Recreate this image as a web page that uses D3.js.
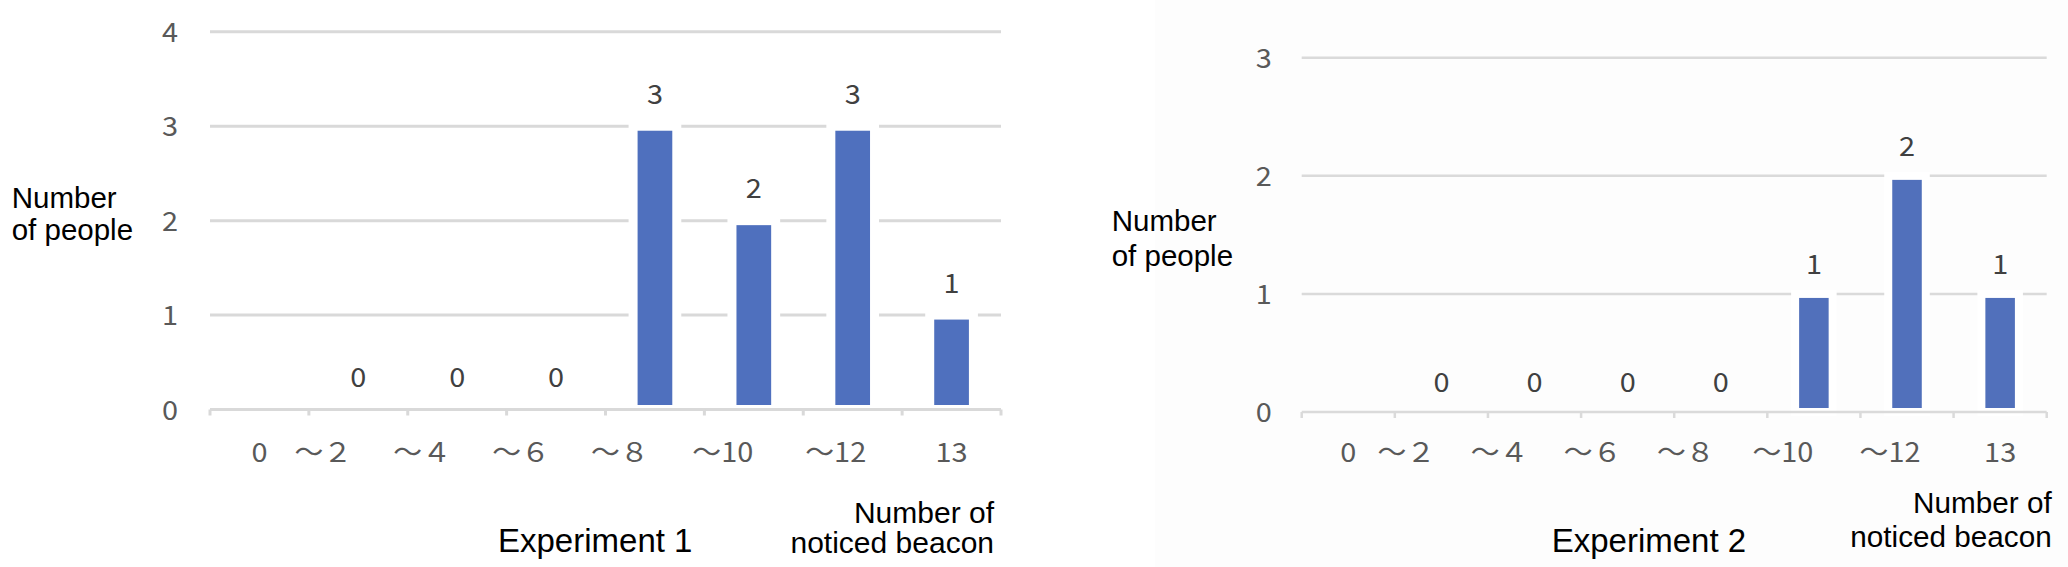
<!DOCTYPE html>
<html><head><meta charset="utf-8">
<script src="https://cdn.jsdelivr.net/npm/d3@7"></script>
<style>body{margin:0;background:#fff;overflow:hidden}</style>
</head><body>
<svg id="chart" width="2068" height="567"></svg>
<script>
// ---- data ----
const categories = ["0", "〜２", "〜４", "〜６", "〜８", "〜10", "〜12", "13"];
const experiment1Values = [null, 0, 0, 0, 3, 2, 3, 1];
const experiment2Values = [null, 0, 0, 0, 0, 1, 2, 1];
const experiment1Ticks = [0, 1, 2, 3, 4];
const experiment2Ticks = [0, 1, 2, 3];
const yTitleLines = ["Number", "of people"];
const xTitleLines = ["Number of", "noticed beacon"];
const chartTitles = ["Experiment 1", "Experiment 2"];

// ---- layout / style ----
const grayFont = "'Noto Sans CJK JP', 'Noto Sans', sans-serif";
const blackFont = "'Liberation Sans', Arial, Helvetica, sans-serif";
// horizontal nudge of category labels (as in the original Excel rendering)
function labelShift(label) {
  if (!label.startsWith("〜")) return 0;
  if (label === "〜10") return -31;
  if (label === "〜12") return -17;
  return -35;
}

const svg = d3.select("#chart");
svg.append("rect").attr("x", 0).attr("y", 0).attr("width", 2068).attr("height", 567).attr("fill", "#ffffff");
svg.append("rect").attr("x", 1155).attr("y", 0).attr("width", 913).attr("height", 567).attr("fill", "#fdfdfd");

const panels = [
  { values: experiment1Values, ticks: experiment1Ticks, title: chartTitles[0],
    x0: 210, x1: 1001, yBase: 409.5, yTopPx: 31.8,
    gridW: 3, gridC: "#d9d9d9", barFrac: 0.442, barStroke: 9, barColor: "#4f70be",
    yLabelX: 178, labelOffset: 32, xLabelY: 452, tickFs: 27, sx: 1.07,
    yTitleX: 11.7, yTitleY: [207.7, 240], yTitleFs: 29.5,
    titleX: 498, titleY: 551.7, titleFs: 33,
    xTitleX: 994, xTitleY: [523.3, 553.3], xTitleFs: 30 },
  { values: experiment2Values, ticks: experiment2Ticks, title: chartTitles[1],
    x0: 1301.7, x1: 2046.7, yBase: 412, yTopPx: 57.8,
    gridW: 2.5, gridC: "#dadada", barFrac: 0.403, barStroke: 8, barColor: "#5170bb",
    yLabelX: 1271.7, labelOffset: 29.5, xLabelY: 452, tickFs: 27, sx: 1.07,
    yTitleX: 1111.7, yTitleY: [231.4, 265.7], yTitleFs: 29.5,
    titleX: 1551.7, titleY: 551.7, titleFs: 33,
    xTitleX: 2051.7, xTitleY: [513.3, 546.7], xTitleFs: 29.7 }
];

panels.forEach(p => {
  const g = svg.append("g");
  const x = d3.scaleBand().domain(categories).range([p.x0, p.x1]).padding(0);
  const y = d3.scaleLinear().domain([0, d3.max(p.ticks)]).range([p.yBase, p.yTopPx]);
  const step = x.step();

  // gridlines
  g.append("g").selectAll("line").data(p.ticks.filter(t => t > 0)).join("line")
    .attr("x1", p.x0).attr("x2", p.x1)
    .attr("y1", d => y(d)).attr("y2", d => y(d))
    .attr("stroke", p.gridC).attr("stroke-width", p.gridW);

  // y axis labels
  const ya = g.append("g").attr("transform", `translate(${p.yLabelX},0)`)
    .call(d3.axisLeft(y).tickValues(p.ticks).tickSize(0).tickPadding(0).tickFormat(d3.format("d")));
  ya.select(".domain").remove();
  ya.selectAll("text")
    .attr("x", 0).attr("dy", "0.36em")
    .attr("text-anchor", "end")
    .attr("transform", `scale(${p.sx},1)`)
    .attr("fill", "#595959").attr("font-size", p.tickFs).attr("font-family", grayFont);

  // bars
  const data = categories.map((c, i) => ({ c, v: p.values[i] }));
  const bw = step * p.barFrac;
  g.append("g").selectAll("rect").data(data.filter(d => d.v !== null && d.v > 0)).join("rect")
    .attr("x", d => x(d.c) + step / 2 - bw / 2)
    .attr("width", bw)
    .attr("y", d => y(d.v))
    .attr("height", d => y(0) - y(d.v))
    .attr("fill", p.barColor)
    .attr("stroke", "#ffffff").attr("stroke-width", p.barStroke);

  // x axis line and ticks
  g.append("line").attr("x1", p.x0).attr("x2", p.x1).attr("y1", y(0)).attr("y2", y(0))
    .attr("stroke", p.gridC).attr("stroke-width", p.gridW);
  const bounds = categories.map(c => x(c)).concat([p.x1]);
  g.append("g").selectAll("line").data(bounds).join("line")
    .attr("x1", d => d).attr("x2", d => d)
    .attr("y1", y(0)).attr("y2", y(0) + 6)
    .attr("stroke", p.gridC).attr("stroke-width", p.gridW);

  // x category labels
  const xa = g.append("g").attr("transform", `translate(0,${p.xLabelY})`)
    .call(d3.axisBottom(x).tickSize(0).tickPadding(0));
  xa.select(".domain").remove();
  xa.selectAll("text")
    .attr("y", 0).attr("dy", "0.36em")
    .attr("text-anchor", "middle")
    .attr("transform", d => `translate(${labelShift(d)},0) scale(${p.sx},1)`)
    .attr("fill", "#595959").attr("font-size", p.tickFs).attr("font-family", grayFont);

  // data labels
  g.append("g").selectAll("text").data(data.filter(d => d.v !== null)).join("text")
    .attr("transform", d => `translate(${x(d.c) + step / 2},${y(d.v) - p.labelOffset}) scale(${p.sx},1)`)
    .attr("dy", "0.36em")
    .attr("text-anchor", "middle")
    .attr("fill", "#404040").attr("font-size", p.tickFs).attr("font-family", grayFont)
    .text(d => d.v);

  // y title
  g.append("g").selectAll("text").data(yTitleLines).join("text")
    .attr("x", p.yTitleX).attr("y", (d, i) => p.yTitleY[i])
    .attr("fill", "#000").attr("font-size", p.yTitleFs).attr("font-family", blackFont)
    .text(d => d);

  // chart title
  g.append("text").attr("x", p.titleX).attr("y", p.titleY)
    .attr("fill", "#000").attr("font-size", p.titleFs).attr("font-family", blackFont)
    .text(p.title);

  // x title
  g.append("g").selectAll("text").data(xTitleLines).join("text")
    .attr("x", p.xTitleX).attr("y", (d, i) => p.xTitleY[i])
    .attr("text-anchor", "end")
    .attr("fill", "#000").attr("font-size", p.xTitleFs).attr("font-family", blackFont)
    .text(d => d);
});
</script>
</body></html>
